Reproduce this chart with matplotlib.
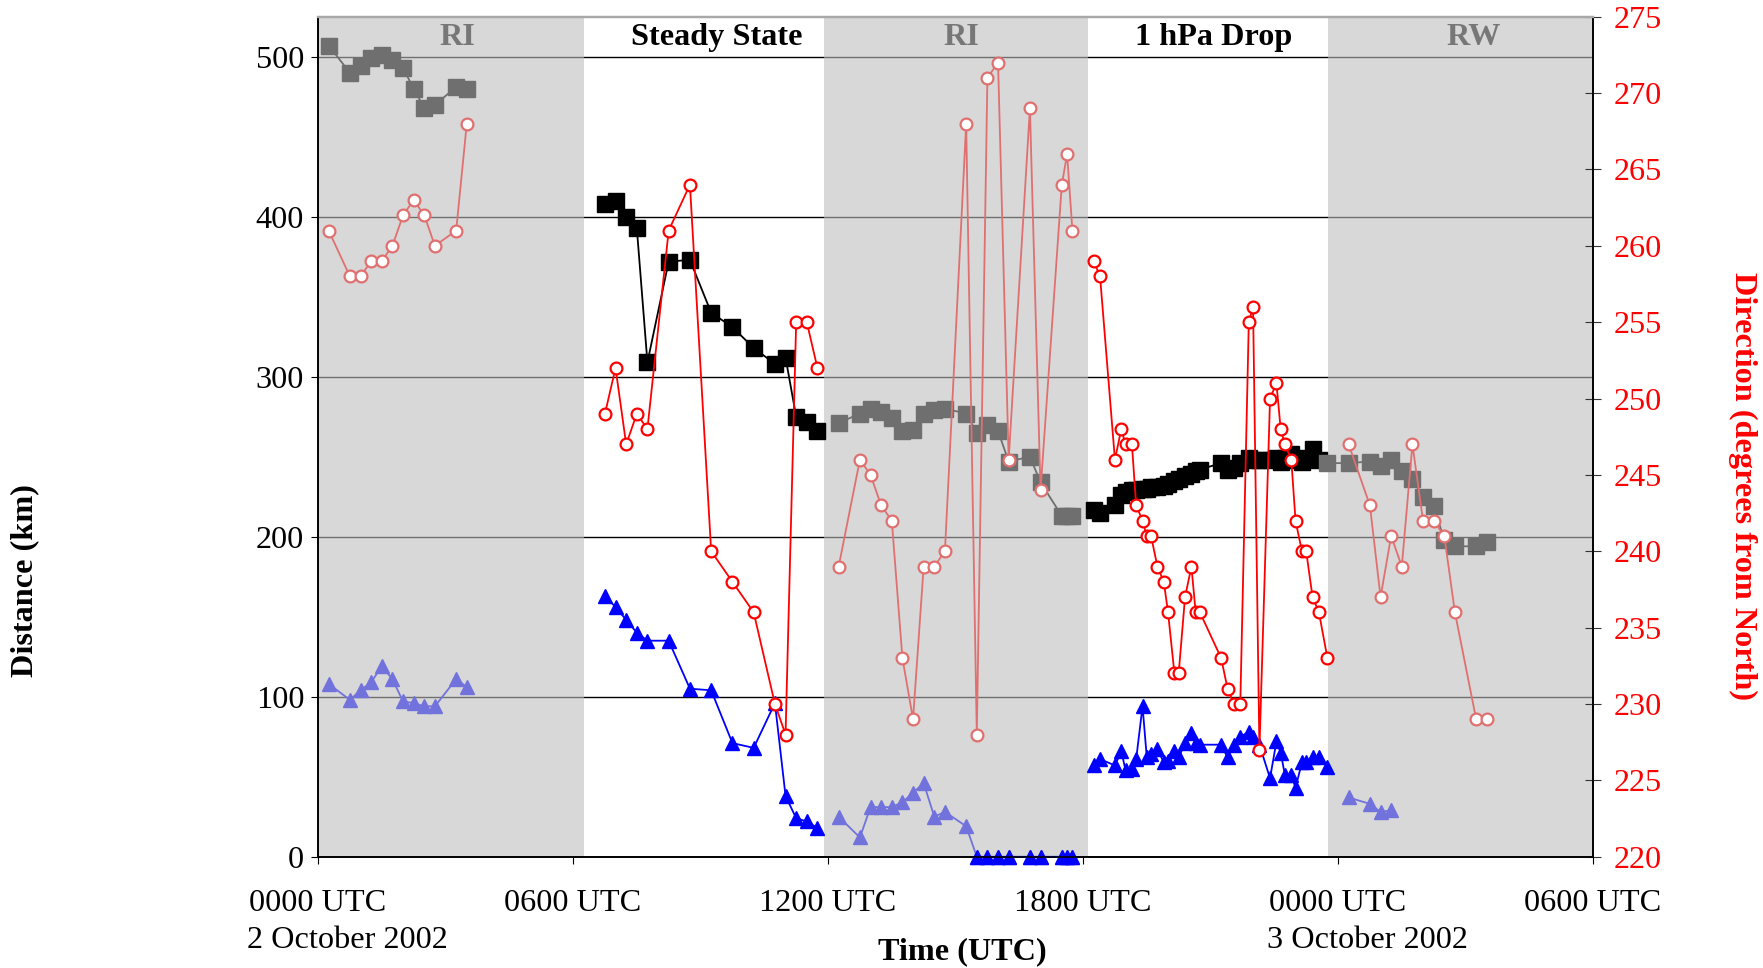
from __future__ import annotations

import matplotlib
matplotlib.use("Agg")
import matplotlib.pyplot as plt

NAN = float("nan")

# hours after 0000 UTC 2 October 2002
ri1_time = [0.25, 0.75, 1.0, 1.25, 1.5, 1.75, 2.0, 2.25, 2.5, 2.75, 3.25, 3.5]
ri1_dist = [507, 490, 494, 499, 501, 498, 493, 480, 468, 470, 481, 480]
ri1_dir = [261, 258, 258, 259, 259, 260, 262, 263, 262, 260, 261, 268]
ri1_tri = [108, 98, 104, 109, 119, 111, 97, 96, 94, 94, 111, 106]

steady_time = [6.75, 7.0, 7.25, 7.5, 7.75, 8.25, 8.75, 9.25, 9.75, 10.25, 10.75, 11.0, 11.25, 11.5, 11.75]
steady_dist = [408, 410, 400, 393, 309, 372, 373, 340, 331, 318, 308, 312, 275, 272, 266]
steady_dir = [249, 252, 247, 249, 248, 261, 264, 240, 238, 236, 230, 228, 255, 255, 252]
steady_tri = [163, 156, 148, 140, 135, 135, 105, 104, 71, 68, 96, 38, 24, 22, 18]

ri2_time = [12.25, 12.75, 13.0, 13.25, 13.5, 13.75, 14.0, 14.25, 14.5, 14.75,
            15.25, 15.5, 15.75, 16.0, 16.25, 16.75, 17.0, 17.5, 17.625, 17.75]
ri2_dist = [271, 277, 280, 278, 274, 266, 267, 277, 279, 280,
            277, 265, 270, 266, 247, 250, 234, 213, 213, 213]
ri2_dir = [239, 246, 245, 243, 242, 233, 229, 239, 239, 240,
           268, 228, 271, 272, 246, 269, 244, 264, 266, 261]
ri2_tri = [25, 12, 31, 31, 31, 34, 40, 46, 25, 28,
           19, 0, 0, 0, 0, 0, 0, 0, 0, 0]

drop_time = [18.25, 18.4, 18.75, 18.9, 19.0, 19.15, 19.25, 19.4, 19.5, 19.6,
             19.75, 19.9, 20.0, 20.15, 20.25, 20.4, 20.55, 20.65, 20.75, 21.25,
             21.4, 21.55, 21.7, 21.9, 22.0, 22.15, 22.4, 22.55, 22.65, 22.75,
             22.9, 23.0, 23.15, 23.25, 23.4, 23.55, 23.75]
drop_dist = [217, 215, 220, 226, 228, 229, 229, 230, 230, 231,
             231, 232, 233, 235, 236, 238, 239, 241, 242, 246,
             242, 243, 246, 249, 248, 248, 248, 249, 247, 249,
             252, 248, 247, 249, 255, 248, NAN]
drop_dir = [259, 258, 246, 248, 247, 247, 243, 242, 241, 241,
            239, 238, 236, 232, 232, 237, 239, 236, 236, 233,
            231, 230, 230, 255, 256, 227, 250, 251, 248, 247,
            246, 242, 240, 240, 237, 236, 233]
drop_tri = [57, 61, 57, 66, 54, 55, 61, 94, 62, 64,
            67, 59, 60, 66, 62, 71, 77, 71, 70, 70,
            62, 70, 75, 78, 75, 70, 49, 72, 65, 51,
            51, 43, 59, 59, 62, 62, 56]

rw_time = [23.75, 24.25, 24.75, 25.0, 25.25, 25.5, 25.75, 26.0, 26.25, 26.5, 26.75, 27.25, 27.5]
rw_dist = [246, 246, 247, 244, 248, 241, 236, 225, 219, 198, 194, 194, 197]
rw_dir = [NAN, 247, 243, 237, 241, 239, 247, 242, 242, 241, 236, 229, 229]
rw_tri = [NAN, 37, 33, 28, 29, NAN, NAN, NAN, NAN, NAN, NAN, NAN, NAN]

phase_names = ["RI", "Steady State", "RI", "1 hPa Drop", "RW"]
phase_edges = [0.0, 6.26, 11.9, 18.12, 23.77, 30.0]
phase_label_x = [3.28, 9.37, 15.13, 21.08, 27.2]
phase_rapid = [True, False, True, False, True]

tick_hours = [0, 6, 12, 18, 24, 30]
tick_labels = ["0000 UTC", "0600 UTC", "1200 UTC", "1800 UTC", "0000 UTC", "0600 UTC"]
date_hours = [0, 24]
date_labels = ["2 October 2002", "3 October 2002"]

FAINT = {"square": "#6f6f6f", "circle": "#e07070", "triangle": "#7272dc", "text": "#777777"}
STRONG = {"square": "#000000", "circle": "#ff0000", "triangle": "#0000ff", "text": "#000000"}

FS = 23.2


def plot_phase(ax, ax2, time, dist, direc, tri, colors) -> None:
  ax.plot(time, dist, color=colors["square"], marker="s", ms=11, lw=1.3, zorder=3)
  ax.plot(time, tri, color=colors["triangle"], marker="^", ms=10, lw=1.3, zorder=3, clip_on=False)
  ax2.plot(time, direc, color=colors["circle"], marker="o", ms=8.5, mfc="white",
           mew=1.6, lw=1.3, zorder=3)


def main() -> None:
  plt.rcParams["font.family"] = ["Liberation Serif", "DejaVu Serif"]
  fig = plt.figure(figsize=(17.63, 9.68), dpi=100)
  ax = fig.add_axes([0.1804, 0.115, 0.7232, 0.8677])
  ax2 = ax.twinx()

  ax.set_xlim(0, 30)
  ax.set_ylim(0, 525)
  ax2.set_ylim(220, 275)

  ax.set_axisbelow(True)
  ax.yaxis.grid(True, color="black", lw=1.0)
  for i, rapid in enumerate(phase_rapid):
    if rapid:
      ax.axvspan(phase_edges[i], phase_edges[i + 1], color="#bebebe", alpha=0.59, lw=0, zorder=1)
    colors = FAINT if rapid else STRONG
    ax.text(phase_label_x[i], 512, phase_names[i], ha="center", va="center",
            fontsize=FS, fontweight="bold", color=colors["text"], zorder=4)

  plot_phase(ax, ax2, ri1_time, ri1_dist, ri1_dir, ri1_tri, FAINT)
  plot_phase(ax, ax2, steady_time, steady_dist, steady_dir, steady_tri, STRONG)
  plot_phase(ax, ax2, ri2_time, ri2_dist, ri2_dir, ri2_tri, FAINT)
  plot_phase(ax, ax2, drop_time, drop_dist, drop_dir, drop_tri, STRONG)
  plot_phase(ax, ax2, rw_time, rw_dist, rw_dir, rw_tri, FAINT)

  # zero-distance triangles in the second RI period show in full blue
  zero_t = [t for t, v in zip(ri2_time, ri2_tri) if v == 0]
  zero_v = [v for v in ri2_tri if v == 0]
  ax.plot(zero_t, zero_v, color=STRONG["triangle"], marker="^", ms=10, lw=1.3,
          zorder=3, clip_on=False)

  ax.set_xticks(tick_hours)
  ax.set_xticklabels(tick_labels)
  ax.set_yticks([0, 100, 200, 300, 400, 500])
  ax.tick_params(axis="x", direction="out", length=5, pad=18, labelsize=FS)
  ax.tick_params(axis="y", direction="out", length=5, pad=5, labelsize=FS)
  ax2.set_yticks(range(220, 276, 5))
  ax2.tick_params(axis="y", direction="inout", length=11, pad=9, labelsize=FS,
                  labelcolor="red", color="#333333")

  for axis in (ax, ax2):
    for side in ("left", "right", "bottom"):
      axis.spines[side].set_linewidth(1.2)
      axis.spines[side].set_color("black")
    axis.spines["top"].set_color("#a8a8a8")
    axis.spines["top"].set_linewidth(1.6)

  for hour, label in zip(date_hours, date_labels):
    ax.annotate(label, xy=(hour, 0), xycoords=("data", "axes fraction"),
                xytext=(-51, -60), textcoords="offset points",
                ha="left", va="center", fontsize=FS, annotation_clip=False)

  fig.text(0.546, 0.017, "Time (UTC)", ha="center", va="center",
           fontsize=FS, fontweight="bold")
  fig.text(0.0142, 0.40, "Distance (km)", ha="center", va="center",
           rotation=90, fontsize=FS, fontweight="bold")
  fig.text(0.9886, 0.498, "Direction (degrees from North)", ha="center", va="center",
           rotation=270, fontsize=FS, fontweight="bold", color="red")

  fig.savefig("out.png", dpi=100)
  plt.close(fig)


if __name__ == "__main__":
  main()
